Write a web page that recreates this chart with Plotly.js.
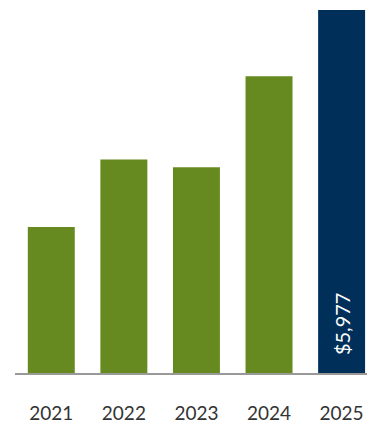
<!DOCTYPE html>
<html>
<head>
<meta charset="utf-8">
<script src="https://cdn.plot.ly/plotly-3.0.1.min.js"></script>
<style>html,body{margin:0;padding:0;background:#fff;}#chart{width:367px;height:423px;}</style>
</head>
<body>
<div id="chart"></div>
<script>
const years = ['2021', '2022', '2023', '2024', '2025'];
const values = [2402, 3514, 3389, 4886, 5977];
const labelYear = '2025';
const labelText = '$5,977';
const colors = ['#668a1f', '#668a1f', '#668a1f', '#668a1f', '#00305a'];

const trace = {
  type: 'bar',
  x: years,
  y: values,
  marker: {color: colors, line: {width: 0}},
  hoverinfo: 'none'
};

const layout = {
  width: 367,
  height: 423,
  margin: {l: 15, r: 0, t: 10, b: 50},
  paper_bgcolor: '#ffffff',
  plot_bgcolor: '#ffffff',
  bargap: 0.353,
  showlegend: false,
  xaxis: {
    type: 'category',
    range: [-0.5, 4.35],
    showline: true,
    linecolor: '#999999',
    linewidth: 2,
    showgrid: false,
    zeroline: false,
    ticks: '',
    ticklabelstandoff: 22,
    tickfont: {family: 'Lato, "Open Sans", sans-serif', size: 19, color: '#333333'},
    fixedrange: true
  },
  yaxis: {
    range: [0, 5977],
    visible: false,
    showgrid: false,
    zeroline: false,
    fixedrange: true
  },
  annotations: [{
    x: years.indexOf(labelYear),
    y: 0,
    xref: 'x',
    yref: 'y',
    text: labelText,
    textangle: -90,
    showarrow: false,
    xanchor: 'center',
    yanchor: 'bottom',
    yshift: 16,
    font: {family: 'Lato, "Open Sans", sans-serif', size: 20, color: '#ffffff'}
  }]
};

Plotly.newPlot('chart', [trace], layout, {displayModeBar: false, staticPlot: true});
</script>
</body>
</html>
